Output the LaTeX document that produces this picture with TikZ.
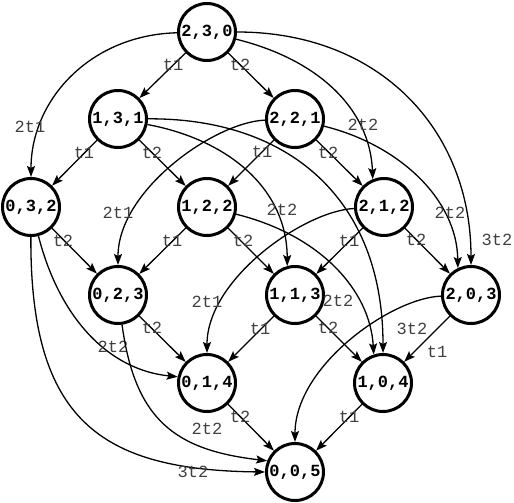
\documentclass[tikz,border=0pt]{standalone}
\usepackage{fontspec}
\setmonofont{Liberation Mono}
\usetikzlibrary{arrows.meta}
\begin{document}
\begin{tikzpicture}[x=1pt,y=-1pt,
  st/.style={circle,draw,line width=3pt,minimum size=57pt,inner sep=0pt,font=\ttfamily\bfseries\fontsize{17}{17}\selectfont},
  arr/.style={line width=1.3pt,-{Stealth[length=11pt,width=8pt,inset=2pt]}},
  lbl/.style={font=\ttfamily\fontsize{17}{17}\selectfont,text=black!75,inner sep=0pt}]
\useasboundingbox (0,0) rectangle (514,503);
\node[st] (n230) at (207,32) {2,3,0};
\node[st] (n131) at (118,119) {1,3,1};
\node[st] (n221) at (295,119) {2,2,1};
\node[st] (n032) at (31,207) {0,3,2};
\node[st] (n122) at (207,207) {1,2,2};
\node[st] (n212) at (384,207) {2,1,2};
\node[st] (n023) at (118,295) {0,2,3};
\node[st] (n113) at (295,295) {1,1,3};
\node[st] (n203) at (471,295) {2,0,3};
\node[st] (n014) at (207,383) {0,1,4};
\node[st] (n104) at (383,383) {1,0,4};
\node[st] (n005) at (295,472) {0,0,5};
% straight edges
\draw[arr] (n230) -- (n131) node[lbl,at={(173,65)}]{t1};
\draw[arr] (n230) -- (n221) node[lbl,at={(240,65)}]{t2};
\draw[arr] (n131) -- (n032) node[lbl,at={(84,153)}]{t1};
\draw[arr] (n131) -- (n122) node[lbl,at={(152,153)}]{t2};
\draw[arr] (n221) -- (n122) node[lbl,at={(262,152)}]{t1};
\draw[arr] (n221) -- (n212) node[lbl,at={(328,153)}]{t2};
\draw[arr] (n032) -- (n023) node[lbl,at={(63,241)}]{t2};
\draw[arr] (n122) -- (n023) node[lbl,at={(172,241)}]{t1};
\draw[arr] (n122) -- (n113) node[lbl,at={(243,241)}]{t2};
\draw[arr] (n212) -- (n113) node[lbl,at={(349,241)}]{t1};
\draw[arr] (n212) -- (n203) node[lbl,at={(416,240)}]{t2};
\draw[arr] (n023) -- (n014) node[lbl,at={(152,328)}]{t2};
\draw[arr] (n113) -- (n014) node[lbl,at={(260,329)}]{t1};
\draw[arr] (n113) -- (n104) node[lbl,at={(328,328)}]{t2};
\draw[arr] (n203) -- (n104) node[lbl,at={(437,352)}]{t1};
\draw[arr] (n014) -- (n005) node[lbl,at={(240,417)}]{t2};
\draw[arr] (n104) -- (n005) node[lbl,at={(349,417)}]{t1};
% curved edges
\draw[arr] (n230) .. controls (90,35) and (31,100) .. (n032) node[lbl,at={(30,127)}]{2t1};
\draw[arr] (n230) .. controls (320,60) and (370,110) .. (n212.112) node[lbl,at={(363,125)}]{2t2};
\draw[arr] (n230) .. controls (380,32) and (471,130) .. (n203) node[lbl,at={(497,240)}]{3t2};
\draw[arr] (n131) .. controls (230,140) and (287,190) .. (n113.105) node[lbl,at={(282,210)}]{2t2};
\draw[arr] (n131) .. controls (290,118) and (383,200) .. (n104) node[lbl,at={(412,329)}]{3t2};
\draw[arr] (n221) .. controls (215,122) and (118,190) .. (n023) node[lbl,at={(118,213)}]{2t1};
\draw[arr] (n221) .. controls (400,145) and (457,200) .. (n203.116) node[lbl,at={(450,213)}]{2t2};
\draw[arr] (n122) .. controls (320,235) and (370,290) .. (n104.108) node[lbl,at={(338,301)}]{2t2};
\draw[arr] (n212) .. controls (304,211) and (207,279) .. (n014) node[lbl,at={(207,302)}]{2t1};
\draw[arr] (n203) .. controls (391,298) and (295,366) .. (n005);
\draw[arr] (n032) .. controls (60,320) and (110,370) .. (n014.168) node[lbl,at={(113,347)}]{2t2};
\draw[arr] (n032) .. controls (30,420) and (100,470) .. (n005.180) node[lbl,at={(193,472)}]{3t2};
\draw[arr] (n023) .. controls (135,420) and (175,450) .. (n005.158) node[lbl,at={(207,429)}]{2t2};
\end{tikzpicture}
\end{document}
